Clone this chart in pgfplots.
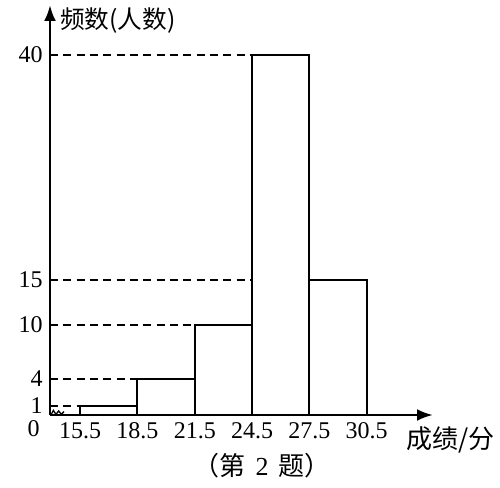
\documentclass[border=0pt]{standalone}
\usepackage{pgfplots}
\pgfplotsset{compat=1.18}
\usepackage{fontspec}
\setmainfont{Liberation Serif}
\newfontfamily\cjk{Noto Sans CJK SC}
\usetikzlibrary{arrows.meta}

\begin{document}
\begin{tikzpicture}[x=1pt,y=1pt]
% page = 500x488 px at 0.75pt per px, axis origin at (0,0)
\useasboundingbox (-37.5,-54.75) rectangle (337.5,311.25);
\begin{axis}[
    at={(0,0)}, anchor=south west,
    scale only axis, width=287.25pt, height=307.5pt,
    xmin=13.921, xmax=33.974, ymin=0, ymax=45.56,
    axis lines=left,
    axis line style={line width=2pt},
    x axis line style={-{Latex[length=12pt,width=9pt]}},
    y axis line style={-{Latex[length=12pt,width=9pt]}},
    clip=false,
    xtick={15.5,18.5,21.5,24.5,27.5,30.5},
    ytick={1,4,10,15,40},
    xtick style={draw=none},
    ytick style={line width=1.4pt},
    tick align=inside,
    major tick length=4pt,
    /pgf/number format/assume math mode=true,
    ticklabel style={font=\fontsize{18}{18}\selectfont},
    xticklabel style={/pgf/number format/fixed, /pgf/number format/fixed zerofill, /pgf/number format/precision=1, yshift=-2pt},
    yticklabel style={xshift=-2pt},
]
% dashed guide lines
\addplot[black, line width=1.5pt, dash pattern=on 6pt off 4pt] coordinates {(13.921,40) (24.5,40)};
\addplot[black, line width=1.5pt, dash pattern=on 6pt off 4pt] coordinates {(13.921,15) (24.5,15)};
\addplot[black, line width=1.5pt, dash pattern=on 6pt off 4pt] coordinates {(13.921,10) (21.5,10)};
\addplot[black, line width=1.5pt, dash pattern=on 6pt off 4pt] coordinates {(13.921,4) (18.5,4)};
\addplot[black, line width=1.5pt, dash pattern=on 6pt off 4pt] coordinates {(13.921,1) (15.5,1)};
% histogram
\addplot[ybar interval, fill=white, draw=black, line width=1.5pt] coordinates {
    (15.5,1) (18.5,4) (21.5,10) (24.5,40) (27.5,15) (30.5,15)
};
\end{axis}
% axis break mark
\draw[line width=1pt] (1,0.5) -- (2.5,3.5) -- (4.5,0.5) -- (6.5,3) -- (8.5,0.5) -- (10.5,2.5);
\node[anchor=north east, inner sep=0pt, font=\fontsize{18}{18}\selectfont] at (-7.5,-4) {0};
\node[anchor=west, inner sep=0pt, font=\cjk\fontsize{18.5}{18.5}\selectfont] at (7.5,295.5) {频数(人数)};
\node[anchor=west, inner sep=0pt, font=\cjk\fontsize{19.5}{19.5}\selectfont] at (267,-18.75) {成绩/分};
\node[inner sep=0pt, font=\cjk\fontsize{19.5}{19.5}\selectfont] at (159,-38.25) {（第\hspace{0.4em}{\rmfamily 2}\hspace{0.4em}题）};
\end{tikzpicture}
\end{document}
